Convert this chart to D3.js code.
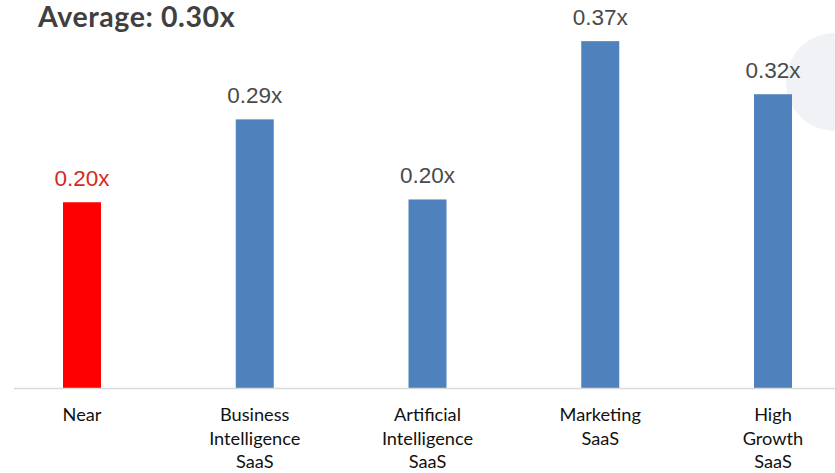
<!DOCTYPE html>
<html>
<head>
<meta charset="utf-8">
<script src="https://cdn.jsdelivr.net/npm/d3@7"></script>
<style>
  html, body { margin: 0; padding: 0; background: #ffffff; }
  svg { display: block; }
</style>
</head>
<body>
<div id="chart"></div>
<script>
// ---- data ----
const categories = ["Near", "Business Intelligence SaaS", "Artificial Intelligence SaaS", "Marketing SaaS", "High Growth SaaS"];
const categoryLines = [["Near"], ["Business", "Intelligence", "SaaS"], ["Artificial", "Intelligence", "SaaS"], ["Marketing", "SaaS"], ["High", "Growth", "SaaS"]];
const values = [0.20, 0.289, 0.203, 0.373, 0.316];
const highlight = ["Near"];
const averageValue = 0.30;

// ---- layout ----
const W = 835, H = 473;
const baseY = 388.5;
const barW = 38;

const svg = d3.select("#chart").append("svg").attr("width", W).attr("height", H);

// decorative light circle at right edge
svg.append("circle").attr("cx", 835).attr("cy", 82).attr("r", 49).attr("fill", "#f0f2f6");

const x = d3.scalePoint().domain(categories).range([82, 773]);
const y = d3.scaleLinear().domain([0, 0.4172]).range([baseY, 0]);

const fmt = d3.format(".2f");

// bars
svg.selectAll("rect.bar").data(categories).join("rect")
  .attr("class", "bar")
  .attr("x", d => x(d) - barW / 2)
  .attr("width", barW)
  .attr("y", (d, i) => y(values[i]))
  .attr("height", (d, i) => y(0) - y(values[i]))
  .attr("fill", d => highlight.includes(d) ? "#ff0000" : "#4f81bd");

// baseline
svg.append("line")
  .attr("x1", 14).attr("x2", W)
  .attr("y1", baseY).attr("y2", baseY)
  .attr("stroke", "#d9d9d9").attr("stroke-width", 1.5);

// value labels
svg.selectAll("text.val").data(categories).join("text")
  .attr("class", "val")
  .attr("x", d => x(d))
  .attr("y", (d, i) => y(values[i]) - 16)
  .attr("text-anchor", "middle")
  .attr("font-family", "'Liberation Sans', Arial, sans-serif")
  .attr("font-size", 22.5)
  .attr("fill", d => highlight.includes(d) ? "#d42a20" : "#4a4a4a")
  .text((d, i) => fmt(values[i]) + "x");

// category labels
const cat = svg.selectAll("text.cat").data(categories).join("text")
  .attr("class", "cat")
  .attr("text-anchor", "middle")
  .attr("font-family", "Lato, 'Open Sans', sans-serif")
  .attr("font-size", 18.2)
  .attr("fill", "#111111");
cat.each(function(d, i) {
  const t = d3.select(this);
  categoryLines[i].forEach((ln, j) => {
    t.append("tspan").attr("x", x(d)).attr("y", 421 + j * 23.5).text(ln);
  });
});

// title
svg.append("text")
  .attr("x", 38).attr("y", 27)
  .attr("font-family", "Lato, 'Open Sans', sans-serif")
  .attr("font-weight", "bold")
  .attr("font-size", 28.5)
  .attr("letter-spacing", 0.6)
  .attr("fill", "#404040")
  .text("Average: " + fmt(averageValue) + "x");
</script>
</body>
</html>
